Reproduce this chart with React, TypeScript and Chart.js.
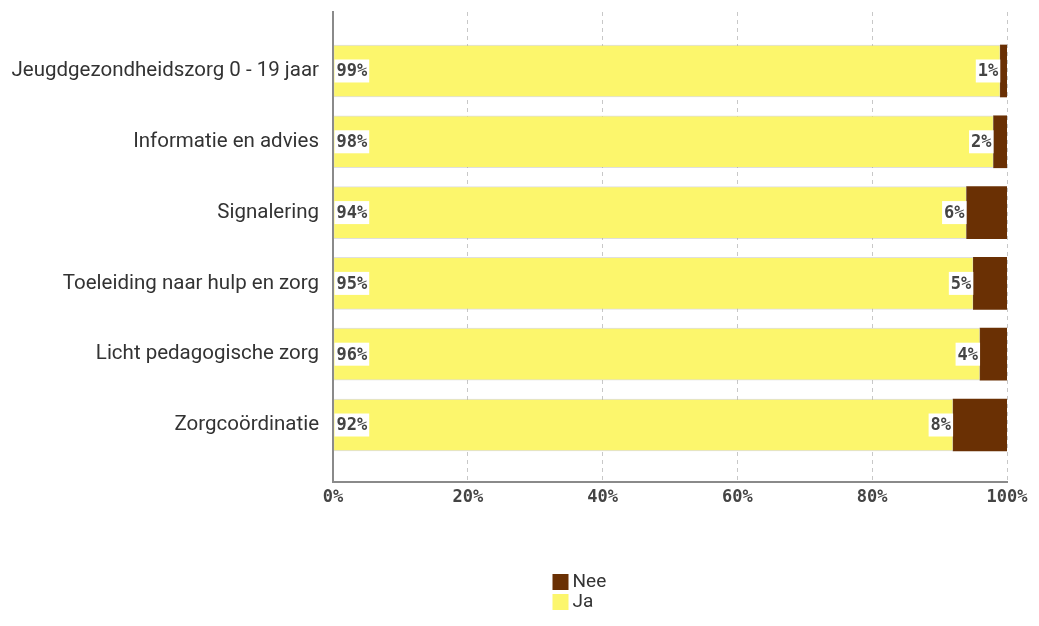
import React, { useEffect, useRef } from 'react';
import { Chart, registerables } from 'chart.js';

Chart.register(...registerables);

const categories = [
  'Jeugdgezondheidszorg 0 - 19 jaar',
  'Informatie en advies',
  'Signalering',
  'Toeleiding naar hulp en zorg',
  'Licht pedagogische zorg',
  'Zorgcoördinatie',
];
const jaValues = [99, 98, 94, 95, 96, 92];
const neeValues = [1, 2, 6, 5, 4, 8];
const xTickValues = [0, 20, 40, 60, 80, 100];
const legendOrder = ['Nee', 'Ja'];

const JA_COLOR = '#FCF66C';
const NEE_COLOR = '#6A3004';
const MONO = '"DejaVu Sans Mono", monospace';
const SANS = '"Roboto", sans-serif';

const labelPlugin = {
  id: 'valueLabels',
  afterDatasetsDraw(chart: any) {
    const ctx = chart.ctx;
    ctx.save();
    ctx.font = `bold 17px ${MONO}`;
    ctx.textBaseline = 'middle';
    chart.data.datasets.forEach((ds: any, di: number) => {
      const meta = chart.getDatasetMeta(di);
      meta.data.forEach((el: any, i: number) => {
        const v = ds.data[i].x;
        const txt = v + '%';
        const w = ctx.measureText(txt).width;
        const bw = w + 4;
        const bh = 23;
        let left: number;
        if (di === 0) {
          left = Math.min(el.base, el.x) + 1;
        } else {
          left = Math.min(el.base, el.x) - bw;
        }
        ctx.fillStyle = '#ffffff';
        ctx.fillRect(left, el.y - bh / 2, bw, bh);
        ctx.fillStyle = '#444444';
        ctx.textAlign = 'left';
        ctx.fillText(txt, left + 2, el.y + 1);
      });
    });
    ctx.restore();
  },
};

const legendPlugin = {
  id: 'vertLegend',
  afterDraw(chart: any) {
    const ctx = chart.ctx;
    ctx.save();
    const left = chart.width / 2 + 33;
    let top = 574;
    ctx.font = `19px ${SANS}`;
    ctx.textBaseline = 'middle';
    legendOrder.forEach((name) => {
      const ds = chart.data.datasets.find((d: any) => d.label === name);
      ctx.fillStyle = ds.backgroundColor;
      ctx.fillRect(left, top, 16, 16);
      ctx.fillStyle = '#333333';
      ctx.fillText(name, left + 20, top + 8);
      top += 20;
    });
    ctx.restore();
  },
};

export default function App() {
  const ref = useRef<HTMLCanvasElement>(null);
  useEffect(() => {
    if (!ref.current) return;
    const chart = new Chart(ref.current, {
      type: 'bar',
      data: {
        datasets: [
          {
            label: 'Ja',
            data: jaValues.map((v, i) => ({ x: v, y: i })),
            backgroundColor: JA_COLOR,
            borderColor: 'rgba(150,150,150,0.3)',
            borderWidth: 1,
            borderSkipped: false,
            barThickness: 52,
          },
          {
            label: 'Nee',
            data: neeValues.map((v, i) => ({ x: v, y: i })),
            backgroundColor: NEE_COLOR,
            borderWidth: 0,
            barThickness: 52,
          },
        ],
      },
      options: {
        indexAxis: 'y',
        animation: false,
        responsive: true,
        maintainAspectRatio: false,
        layout: { padding: { left: 0, right: 32, top: 12, bottom: 0 } },
        plugins: { legend: { display: false }, tooltip: { enabled: false } },
        scales: {
          x: {
            type: 'linear',
            stacked: true,
            min: 0,
            max: 100,
            afterBuildTicks: (scale: any) => {
              scale.ticks = xTickValues.map((v) => ({ value: v }));
            },
            afterFit: (scale: any) => {
              scale.height = 144;
            },
            ticks: {
              callback: (v: any) => v + '%',
              font: { family: MONO, size: 17, weight: 'bold' },
              color: '#444',
              padding: 5,
              maxRotation: 0,
            },
            grid: { color: '#c8c8c8', lineWidth: 1, drawTicks: false },
            border: { color: '#8a8a8a', width: 2, dash: [4, 4] },
          },
          y: {
            type: 'linear',
            stacked: true,
            reverse: true,
            offset: false,
            min: -0.833,
            max: 5.805,
            afterBuildTicks: (scale: any) => {
              scale.ticks = categories.map((_, i) => ({ value: i }));
            },
            afterFit: (scale: any) => {
              scale.width = 333;
              scale.paddingTop = 0;
              scale.paddingBottom = 0;
            },
            ticks: {
              callback: (v: any) => categories[v] ?? '',
              font: { family: SANS, size: 20.5 },
              color: '#333',
              padding: 14,
            },
            grid: { display: false, drawTicks: false },
            border: { color: '#8a8a8a', width: 2 },
          },
        },
      },
      plugins: [labelPlugin, legendPlugin],
    } as any);
    return () => chart.destroy();
  }, []);
  return (
    <div style={{ position: 'fixed', left: 0, top: 0, width: 1039, height: 626, background: '#fff' }}>
      <canvas ref={ref} />
    </div>
  );
}
